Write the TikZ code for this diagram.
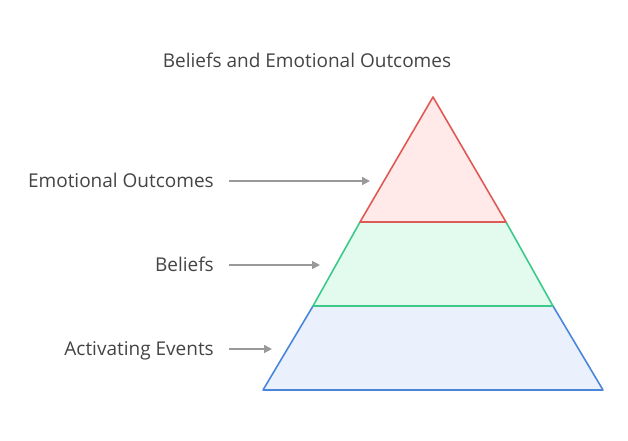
\documentclass[tikz,border=0pt]{standalone}
\usepackage{fontspec}
\setmainfont{Open Sans}
\usepackage{tikz}
\usetikzlibrary{arrows.meta}
\definecolor{txtgray}{HTML}{444444}
\definecolor{arrgray}{HTML}{999999}
\definecolor{redline}{HTML}{E05A55}
\definecolor{redfill}{HTML}{FFE9E9}
\definecolor{greenline}{HTML}{3DC98A}
\definecolor{greenfill}{HTML}{E2FBEE}
\definecolor{blueline}{HTML}{4A86DB}
\definecolor{bluefill}{HTML}{EAF1FD}

\begin{document}
\begin{tikzpicture}[x=1pt,y=-1pt,
 lbl/.style={text=txtgray,inner sep=0pt,anchor=east,text height=16pt,text depth=3pt,font=\fontsize{19}{22}\selectfont},
 arr/.style={draw=arrgray,line width=1.6pt,-{Triangle[length=8pt,width=8pt]},shorten <=15pt},
 layer/.style={line width=1.6pt,line join=round}]
\useasboundingbox (0,0) rectangle (628,440);
% pyramid corners
\coordinate (apex) at (433,97);
\coordinate (l1) at (360,222);
\coordinate (r1) at (506,222);
\coordinate (l2) at (313,306);
\coordinate (r2) at (553,306);
\coordinate (l3) at (263,390);
\coordinate (r3) at (603,390);
\draw[layer,draw=blueline,fill=bluefill](l2)--(r2)--(r3)--(l3)--cycle;
\draw[layer,draw=greenline,fill=greenfill](l1)--(r1)--(r2)--(l2)--cycle;
\draw[layer,draw=redline,fill=redfill](apex)--(r1)--(l1)--cycle;
\node[text=txtgray,font=\fontsize{19}{22}\selectfont] (title) at (307,60) {Beliefs and Emotional Outcomes};
% labels
\node[lbl] (emo) at (214,181) {Emotional Outcomes};
\node[lbl] (bel) at (214,265) {Beliefs};
\node[lbl] (act) at (214,349) {Activating Events};
\coordinate (emotip) at (370,181);
\coordinate (beltip) at (320,265);
\coordinate (acttip) at (272,349);
\draw[arr](emo.east)--(emotip);
\draw[arr](bel.east)--(beltip);
\draw[arr](act.east)--(acttip);
\end{tikzpicture}
\end{document}
